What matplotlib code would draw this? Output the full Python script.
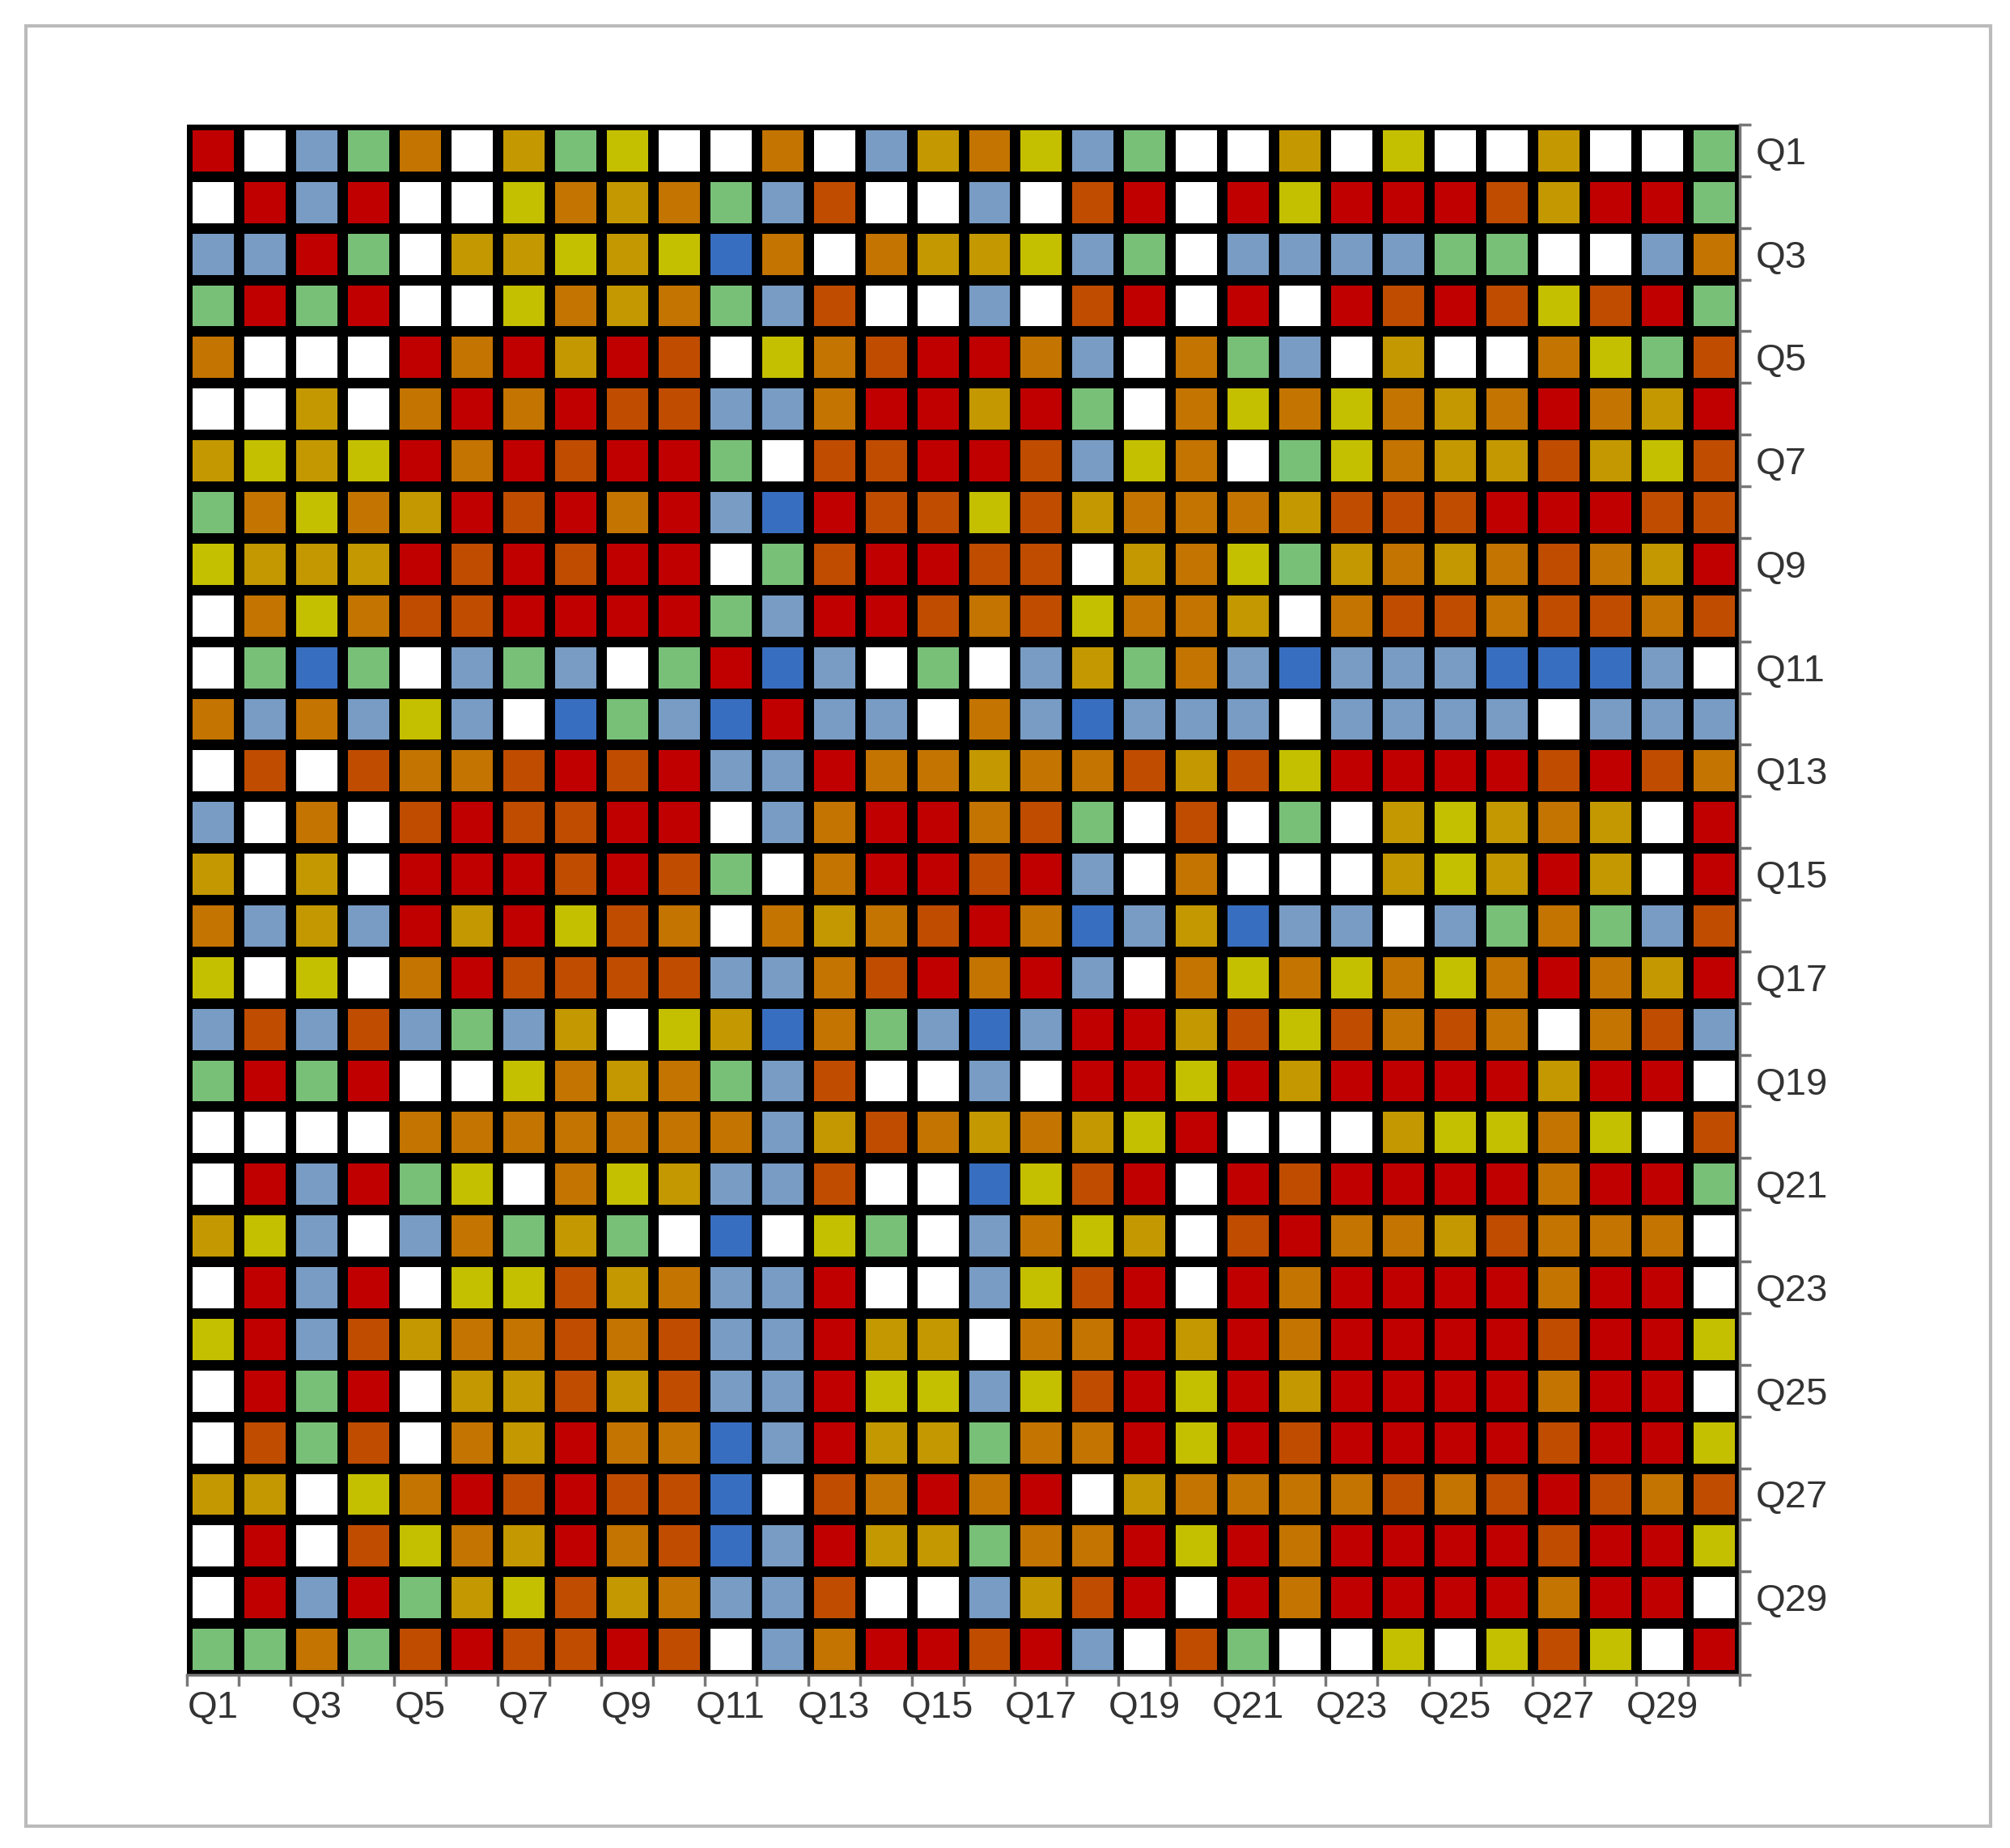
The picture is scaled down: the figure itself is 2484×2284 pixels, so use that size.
import numpy as np
import matplotlib
matplotlib.use("Agg")
import matplotlib.pyplot as plt
from matplotlib.colors import ListedColormap, BoundaryNorm
from matplotlib.patches import Rectangle

labels = [f"Q{i}" for i in range(1, 31)]
codes = "WBDGYAOER"
palette = ["#ffffff", "#789cc4", "#386ec0", "#78c078", "#c4c000",
           "#c49800", "#c47400", "#c04c00", "#c00000"]

b00 = """RWBGOWAGYW
WRBRWWYOAO
BBRGWAAYAY
GRGRWWYOAO
OWWWRORARE
WWAWOROREE
AYAYRORERR
GOYOAREROR
YAAARERERR
WOYOEERRRR"""
b01 = """WOWBAOYBGW
GBEWWBWERW
DOWOAAYBGW
GBEWWBWERW
WYOERROBWO
BBORRARGWO
GWEERREBYO
BDREEYEAOO
WGERREEWAO
GBRREOEYOO"""
b02 = """WAWYWWAWWG
RYRRREARRG
BBBBGGWWBO
RWRERbusy""".replace("busy", "EYERG") if False else """WAWYWWAWWG
RYRRREARRG
BBBBGGWWBO
RWRERERYERG"""
b02 = """WAWYWWAWWG
RYRRREARRG
BBBBGGWWBO
RWRERYERG
GBWAWWOYGE
YOYOAORoAR
WGYOAAEAYE
OAEEERRREE
YGAOAOEOAR
AWOEEOEEOE"""
b02 = """WAWYWWAWWG
RYRRREARRG
BBBBGGWWBO
RWREREYERG
GBWAWWOYGE
YOYOAOROAR
WGYOAAEAYE
OAEEERRREE
YGAOAOEOAR
AWOEEOEEOE"""
b11 = """RDBWGWBAGO
DRBBWOBDBB
BBROOAOOEA
WBORROEGWE
GWORRERBWO
WOAOERODBA
BBOEROR BWO""".replace(" ", "") + """
ADOGBDBRRA
GBEWWBWRRY
OBAEOAOAYR"""
b12 = """BDBBBDDDBW
BWBBBBWBBB
EYRRRRERER
WGWAYAOAWR
WWWAYARAWR
DBBWBGOGBE
YOYOYOROAR
EYEOEOWOEB
RARRRRARRW
WWWAYYOYWE"""
b12 = b12.replace("EYRRRRERER", "EYRRRRERE O".replace(" ", ""))
b22 = """RERRRRORRG
EROOAEOOOW
RORRRRORRW
RORRRRERRY
RARRRRORRW
RERRRRERRY
OOOEOEREOE
RORRRRERRY
RORRRRORRW
GWWYWYEYWR"""

def blk(s):
    return np.array([[codes.index(c) for c in line.strip()] for line in s.strip().splitlines()])

B00, B01, B02, B11, B12, B22 = map(blk, [b00, b01, b02, b11, b12, b22])
M = np.block([[B00, B01, B02],
              [B01.T, B11, B12],
              [B02.T, B12.T, B22]])

fig = plt.figure(figsize=(24.84, 22.84), dpi=100)
fig.patch.set_facecolor("white")
fig.add_artist(Rectangle((32/2484, 1-2257/2284), (2460-32)/2484, (2257-32)/2284,
                         transform=fig.transFigure, fill=False, edgecolor="#bbbbbb", lw=3))
ax = fig.add_axes([231/2484, 1-2070/2284, (2150-231)/2484, (2070-154)/2284])
cmap = ListedColormap(palette)
norm = BoundaryNorm(np.arange(-0.5, 9.5, 1), cmap.N)
ax.pcolormesh(np.arange(31), np.arange(31), M, cmap=cmap, norm=norm,
              edgecolors="black", linewidth=9)
ax.set_xlim(0, 30)
ax.set_ylim(30, 0)
ax.set_facecolor("black")
for s in ["top", "right"]:
    ax.spines[s].set_visible(False)
for s in ["left", "bottom"]:
    ax.spines[s].set_color("#777777")
    ax.spines[s].set_linewidth(2.5)
ax.yaxis.tick_right()
ax.spines["right"].set_visible(True)
ax.spines["right"].set_color("#777777")
ax.spines["right"].set_linewidth(2.5)
ax.spines["left"].set_visible(False)
centers = np.arange(0.5, 30, 2)
ax.set_xticks(centers)
ax.set_xticklabels(labels[::2])
ax.set_yticks(centers)
ax.set_yticklabels(labels[::2])
ax.tick_params(which="major", length=0, labelsize=34, colors="#333333", pad=14)
ax.set_xticks(np.arange(0, 31), minor=True)
ax.set_yticks(np.arange(0, 31), minor=True)
ax.tick_params(which="minor", length=10, width=2.5, color="#777777")
for t in ax.get_xticklabels() + ax.get_yticklabels():
    t.set_fontfamily(["Liberation Sans", "DejaVu Sans"])
fig.savefig("out.png", dpi=100)
